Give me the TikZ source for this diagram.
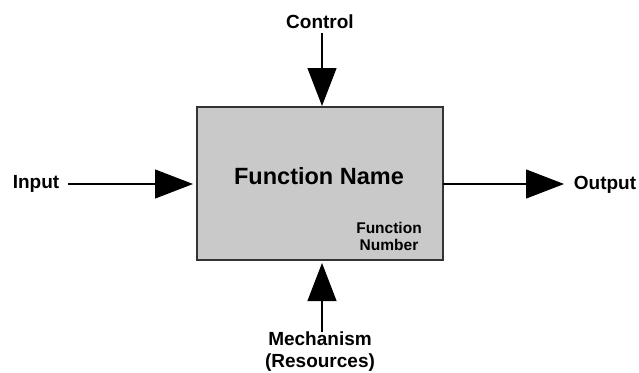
\documentclass[tikz,border=0pt]{standalone}
\usepackage{fontspec}
\setmainfont{Liberation Sans}
\usetikzlibrary{arrows.meta}
\begin{document}
\begin{tikzpicture}[x=1pt,y=-1pt,
  lbl/.style={font=\bfseries\fontsize{19}{22}\selectfont, inner sep=0pt, text=black},
  conn/.style={draw=black, line width=1.1pt, -{Triangle[length=38pt,width=29pt]}}]
\useasboundingbox (0,0) rectangle (639,372);
\node[draw=black!80, line width=1.8pt, fill=black!21, minimum width=246pt, minimum height=153pt, inner sep=0pt] (box) at (320,183.5) {};
\node[font=\bfseries\fontsize{23.5}{26}\selectfont, inner sep=0pt, text=black] (fname) at (319,176) {Function Name};
\node[font=\bfseries\fontsize{15.5}{17}\selectfont, inner sep=0pt, align=center, text=black] (fnum) at (389,236.5) {Function\\Number};
\node[lbl] (ctrl) at (320,22) {Control};
\node[lbl] (inp) at (36,184) {Input};
\node[lbl] (outp) at (605,185) {Output};
\node[lbl, align=center] (mech) at (320,352) {Mechanism\\(Resources)};
\coordinate (ctop) at (322,33);
\coordinate (ctip) at (322,106);
\coordinate (ileft) at (68,184);
\coordinate (itip) at (193,184);
\coordinate (ostart) at (443,184);
\coordinate (otip) at (564,184);
\coordinate (mbot) at (322,332);
\coordinate (mtip) at (322,263);
\draw[conn] (ctop) -- (ctip);
\draw[conn] (ileft) -- (itip);
\draw[conn] (ostart) -- (otip);
\draw[conn] (mbot) -- (mtip);
\end{tikzpicture}
\end{document}
